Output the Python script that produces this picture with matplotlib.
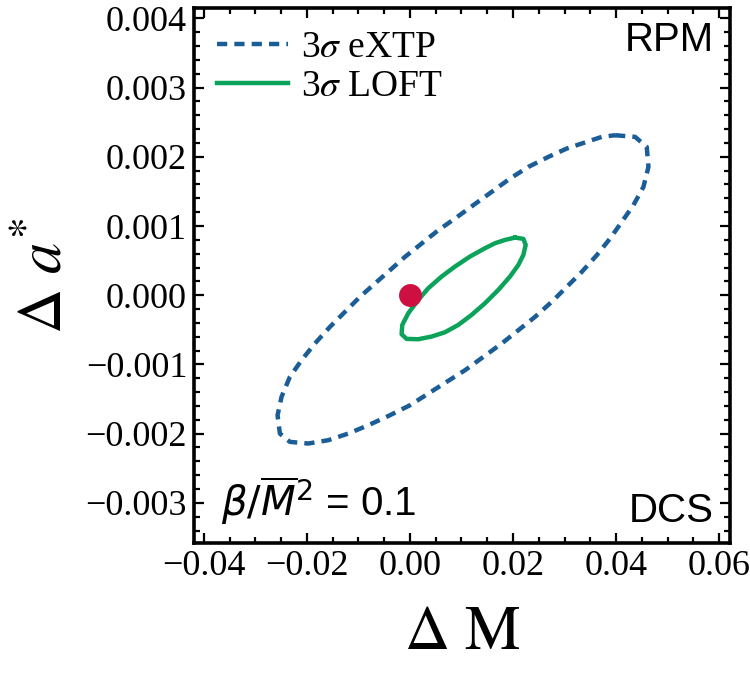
import matplotlib
matplotlib.use("Agg")
import matplotlib.pyplot as plt
from matplotlib.ticker import MultipleLocator, FuncFormatter

# eXTP 3-sigma contour, data units
extp_dM = [0.03980, 0.04369, 0.04595, 0.04628, 0.04531, 0.04336, 0.04110, 0.03883,
           0.03625, 0.03334, 0.03042, 0.02751, 0.02427, 0.02103, 0.01780, 0.01424,
           0.01068, 0.00712, 0.00356, 0.00000, -0.00388, -0.00809, -0.01197, -0.01586,
           -0.01974, -0.02330, -0.02524, -0.02569, -0.02492, -0.02330, -0.02103, -0.01845,
           -0.01553, -0.01262, -0.00971, -0.00680, -0.00388, -0.00097, 0.00227, 0.00550,
           0.00874, 0.01230, 0.01586, 0.01942, 0.02298, 0.02686, 0.03042, 0.03430,
           0.03722, 0.03980]
extp_da = [0.002312, 0.002288, 0.002143, 0.001854, 0.001565, 0.001301, 0.001059, 0.000819,
           0.000578, 0.000337, 0.000120, -0.000096, -0.000313, -0.000506, -0.000698, -0.000891,
           -0.001084, -0.001252, -0.001421, -0.001590, -0.001734, -0.001879, -0.001999, -0.002095,
           -0.002143, -0.002119, -0.001999, -0.001734, -0.001469, -0.001180, -0.000939, -0.000698,
           -0.000458, -0.000241, -0.000024, 0.000169, 0.000361, 0.000554, 0.000747, 0.000939,
           0.001108, 0.001301, 0.001493, 0.001686, 0.001854, 0.001999, 0.002119, 0.002216,
           0.002288, 0.002312]

# LOFT 3-sigma contour
loft_dM = [0.02039, 0.02201, 0.02246, 0.02201, 0.02104, 0.01942, 0.01715, 0.01456,
           0.01197, 0.00938, 0.00680, 0.00421, 0.00162, -0.00065, -0.00162, -0.00149,
           -0.00032, 0.00162, 0.00356, 0.00615, 0.00874, 0.01165, 0.01456, 0.01650,
           0.01845, 0.02039]
loft_da = [0.000833, 0.000814, 0.000727, 0.000583, 0.000438, 0.000270, 0.000077, -0.000116,
           -0.000284, -0.000429, -0.000535, -0.000597, -0.000636, -0.000631, -0.000564, -0.000429,
           -0.000260, -0.000067, 0.000101, 0.000270, 0.000414, 0.000559, 0.000679, 0.000751,
           0.000799, 0.000833]

fid_dM = [0.0]
fid_da = [0.0]

blue = "#1b5d97"
green = "#0ba35a"
red = "#cd1041"

fig = plt.figure(figsize=(7.5, 6.73), dpi=100)
ax = fig.add_axes([0.2587, 0.1932, 0.9733 - 0.2587, 0.9881 - 0.1932])

ax.plot(extp_dM, extp_da, color=blue, lw=3.2, ls=(0, (2.3, 1.6)), label=r"3$\sigma$ eXTP",
        solid_joinstyle="round")
ax.plot(loft_dM, loft_da, color=green, lw=3.2, label=r"3$\sigma$ LOFT",
        solid_joinstyle="round")
ax.plot(fid_dM, fid_da, "o", color=red, ms=16.5, mec="none", zorder=5)

ax.set_xlim(-0.0419, 0.0621)
ax.set_ylim(-0.00358, 0.00415)

ax.xaxis.set_major_locator(MultipleLocator(0.02))
ax.xaxis.set_minor_locator(MultipleLocator(0.005))
ax.yaxis.set_major_locator(MultipleLocator(0.001))
ax.yaxis.set_minor_locator(MultipleLocator(0.0002))
ax.xaxis.set_major_formatter(FuncFormatter(lambda v, p: f"{v:.2f}".replace("-", "\u2212")))
ax.yaxis.set_major_formatter(FuncFormatter(lambda v, p: f"{v:.3f}".replace("-", "\u2212")))

ax.tick_params(which="both", direction="in", top=True, right=True, width=1.6, color="black")
ax.tick_params(which="major", length=7, labelsize=26, pad=5)
ax.tick_params(which="minor", length=4)
for lab in ax.get_xticklabels() + ax.get_yticklabels():
    lab.set_fontfamily("Liberation Serif")
for s in ax.spines.values():
    s.set_linewidth(2.6)

ax.set_xlabel(r"$\Delta\ \mathrm{M}$", fontsize=45, math_fontfamily="stix", labelpad=14)
ax.set_ylabel(r"$\Delta\ a^{*}$", fontsize=45, math_fontfamily="stix", labelpad=8)

leg = ax.legend(loc="upper left", frameon=False, handlelength=1.9, handletextpad=0.35,
                borderaxespad=0.25, borderpad=0.35, labelspacing=0.12,
                prop={"family": "Liberation Serif", "size": 27, "math_fontfamily": "stix"})

ax.text(0.97, 0.975, "RPM", transform=ax.transAxes, ha="right", va="top",
        fontsize=29, family="Liberation Sans")
ax.text(0.97, 0.025, "DCS", transform=ax.transAxes, ha="right", va="bottom",
        fontsize=29, family="Liberation Sans")
ax.text(0.05, 0.03, r"$\beta/\overline{M}^{2}$ = 0.1", transform=ax.transAxes,
        ha="left", va="bottom", fontsize=29, family="Liberation Sans",
        math_fontfamily="dejavusans")

fig.savefig("out.png", dpi=100)
